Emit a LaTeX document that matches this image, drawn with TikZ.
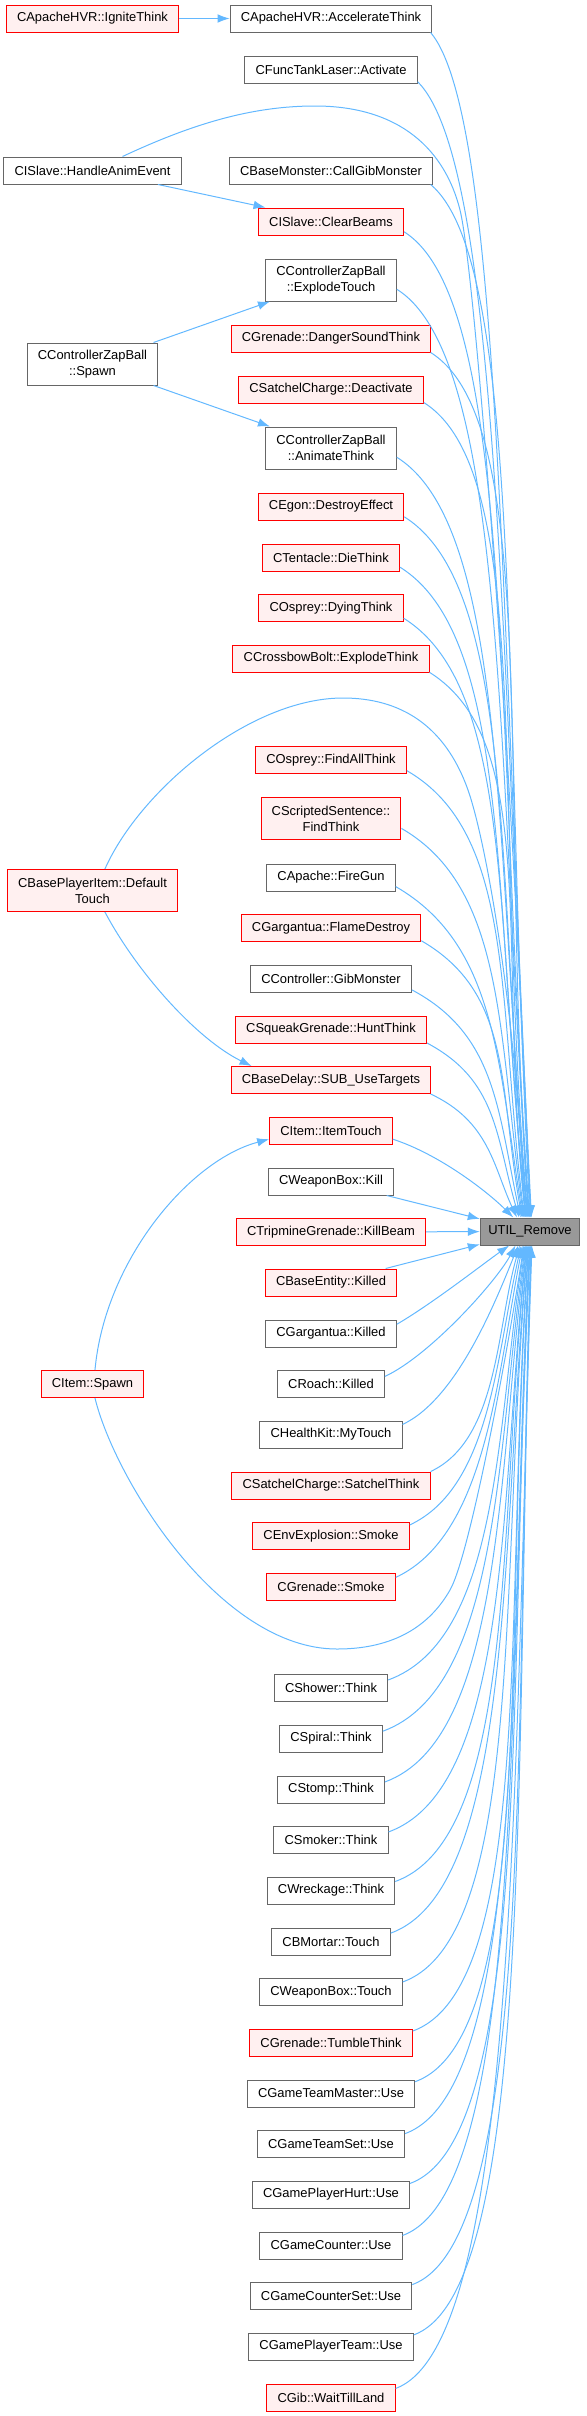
\documentclass[tikz,border=0pt]{standalone}
\usepackage{fontspec}
\setmainfont{Liberation Sans}
\usepackage{xcolor}
\usetikzlibrary{arrows.meta}

\definecolor{edgeblue}{HTML}{63B8FF}
\definecolor{boxgray}{HTML}{666666}
\definecolor{truncfill}{HTML}{FFF0F0}
\definecolor{rootfill}{HTML}{999999}

\begin{document}
\begin{tikzpicture}[x=0.75pt, y=0.75pt,
    fn/.style={rectangle, draw=boxgray, fill=white, line width=0.75pt, font=\fontsize{9.7}{12}\selectfont, inner xsep=8pt, inner ysep=2pt, minimum height=20.25pt, align=center},
    trunc/.style={fn, draw=red, fill=truncfill},
    root/.style={fn, fill=rootfill, inner xsep=6pt},
    tall/.style={minimum height=31.5pt},
    edge/.style={draw=edgeblue, line width=0.75pt, ->, >={Latex[length=9pt,width=6.5pt]}}]

\useasboundingbox (0,0) rectangle (586,-2416);

\node (ignite) [trunc] at (92.5,-18.5) {CApacheHVR::IgniteThink};
\node (accel) [fn] at (331,-18.5) {CApacheHVR::AccelerateThink};
\node (activate) [fn] at (331,-69.5) {CFuncTankLaser::Activate};
\node (handleanim) [fn] at (92.5,-170.5) {CISlave::HandleAnimEvent};
\node (callgib) [fn] at (331,-170.5) {CBaseMonster::CallGibMonster};
\node (clearbeams) [trunc] at (331,-221.5) {CISlave::ClearBeams};
\node (explodetouch) [fn, tall] at (331,-280) {CControllerZapBall\\::ExplodeTouch};
\node (zapspawn) [fn, tall] at (92.5,-364) {CControllerZapBall\\::Spawn};
\node (dangersound) [trunc] at (331,-338.5) {CGrenade::DangerSoundThink};
\node (deactivate) [trunc] at (331,-389.5) {CSatchelCharge::Deactivate};
\node (animatethink) [fn, tall] at (331,-448) {CControllerZapBall\\::AnimateThink};
\node (destroyeffect) [trunc] at (331,-506.5) {CEgon::DestroyEffect};
\node (diethink) [trunc] at (331,-557.5) {CTentacle::DieThink};
\node (dyingthink) [trunc] at (331,-608) {COsprey::DyingThink};
\node (explodethink) [trunc] at (331,-658.5) {CCrossbowBolt::ExplodeThink};
\node (findallthink) [trunc] at (331,-760) {COsprey::FindAllThink};
\node (scripted) [trunc, tall] at (331,-818.5) {CScriptedSentence::\\FindThink};
\node (defaulttouch) [trunc, tall] at (92.5,-890.5) {CBasePlayerItem::Default\\Touch};
\node (firegun) [fn] at (331,-877.5) {CApache::FireGun};
\node (flamedestroy) [trunc] at (331,-928) {CGargantua::FlameDestroy};
\node (gibmonster) [fn] at (331,-978.5) {CController::GibMonster};
\node (huntthink) [trunc] at (331,-1029.5) {CSqueakGrenade::HuntThink};
\node (subuse) [trunc] at (331,-1080) {CBaseDelay::SUB\_UseTargets};
\node (itemtouch) [trunc] at (331,-1130.5) {CItem::ItemTouch};
\node (wbkill) [fn] at (331,-1181.5) {CWeaponBox::Kill};
\node (killbeam) [trunc] at (331,-1232) {CTripmineGrenade::KillBeam};
\node (util) [root] at (530,-1231.5) {UTIL\_Remove};
\node (bekilled) [trunc] at (331,-1282.5) {CBaseEntity::Killed};
\node (gargkilled) [fn] at (331,-1333.5) {CGargantua::Killed};
\node (roachkilled) [fn] at (331,-1384) {CRoach::Killed};
\node (itemspawn) [trunc] at (92.5,-1384) {CItem::Spawn};
\node (mytouch) [fn] at (331,-1434.5) {CHealthKit::MyTouch};
\node (satchelthink) [trunc] at (331,-1485.5) {CSatchelCharge::SatchelThink};
\node (envsmoke) [trunc] at (331,-1536) {CEnvExplosion::Smoke};
\node (grenadesmoke) [trunc] at (331,-1586.5) {CGrenade::Smoke};
\node (shower) [fn] at (331,-1688) {CShower::Think};
\node (spiral) [fn] at (331,-1738.5) {CSpiral::Think};
\node (stomp) [fn] at (331,-1789.5) {CStomp::Think};
\node (smoker) [fn] at (331,-1840) {CSmoker::Think};
\node (wreckage) [fn] at (331,-1890.5) {CWreckage::Think};
\node (bmortar) [fn] at (331,-1941.5) {CBMortar::Touch};
\node (wbtouch) [fn] at (331,-1992) {CWeaponBox::Touch};
\node (tumble) [trunc] at (331,-2042.5) {CGrenade::TumbleThink};
\node (teammaster) [fn] at (331,-2093.5) {CGameTeamMaster::Use};
\node (teamset) [fn] at (331,-2144) {CGameTeamSet::Use};
\node (playerhurt) [fn] at (331,-2194.5) {CGamePlayerHurt::Use};
\node (counter) [fn] at (331,-2245.5) {CGameCounter::Use};
\node (counterset) [fn] at (331,-2296) {CGameCounterSet::Use};
\node (playerteam) [fn] at (331,-2346.5) {CGamePlayerTeam::Use};
\node (waittill) [trunc] at (331,-2397.5) {CGib::WaitTillLand};

\draw [edge] (ignite) -- (accel);
\draw [edge] (handleanim) -- (clearbeams);
\draw [edge] (zapspawn) -- (explodetouch);
\draw [edge] (zapspawn) -- (animatethink);
\draw [edge] (defaulttouch.-60) .. controls +(-62:70) and +(154:60) .. (subuse.170);
\draw [edge] (itemspawn.80) .. controls (105,-1260) and (190,-1160) .. (itemtouch.188);

\draw [edge] (handleanim.25) .. controls (190,-125) and (250,-106) .. (315,-106) .. controls (400,-106) and (445,-150) .. (460,-210) .. controls (475,-270) and (512,-750) .. (util.88);
\draw [edge] (defaulttouch.60) .. controls (140,-790) and (250,-698) .. (343,-698) .. controls (400,-698) and (445,-725) .. (468,-790) .. controls (485,-838) and (515,-1000) .. (util.110);
\draw [edge] (itemspawn.-80) .. controls (115,-1480) and (220,-1649) .. (337,-1649) .. controls (395,-1649) and (430,-1625) .. (450,-1590) .. controls (470,-1555) and (508,-1350) .. (util.-114);

\draw [edge] (accel.-8) .. controls +(-50:110) and +(93:590) .. (util.84);
\draw [edge] (activate.-8) .. controls +(-45:115) and +(93:565) .. (util.86);
\draw [edge] (callgib.-8) .. controls +(-40:120) and +(93:515) .. (util.90);
\draw [edge] (clearbeams.-8) .. controls +(-32:130) and +(94:490) .. (util.92);
\draw [edge] (explodetouch.-8) .. controls +(-32:130) and +(94:455) .. (util.94);
\draw [edge] (dangersound.-8) .. controls +(-32:130) and +(94:430) .. (util.96);
\draw [edge] (deactivate.-8) .. controls +(-32:130) and +(95:405) .. (util.98);
\draw [edge] (animatethink.-8) .. controls +(-32:130) and +(95:370) .. (util.100);
\draw [edge] (destroyeffect.-8) .. controls +(-32:130) and +(95:345) .. (util.102);
\draw [edge] (diethink.-8) .. controls +(-32:130) and +(96:320) .. (util.104);
\draw [edge] (dyingthink.-8) .. controls +(-32:130) and +(96:295) .. (util.106);
\draw [edge] (explodethink.-8) .. controls +(-32:130) and +(96:270) .. (util.108);
\draw [edge] (findallthink.-8) .. controls +(-30:125) and +(97:220) .. (util.112);
\draw [edge] (scripted.-8) .. controls +(-30:120) and +(98:185) .. (util.114);
\draw [edge] (firegun.-8) .. controls +(-30:115) and +(99:160) .. (util.117);
\draw [edge] (flamedestroy.-8) .. controls +(-30:105) and +(100:135) .. (util.120);
\draw [edge] (gibmonster.-8) .. controls +(-28:95) and +(102:110) .. (util.124);
\draw [edge] (huntthink.-8) .. controls +(-28:80) and +(106:85) .. (util.128);
\draw [edge] (subuse.-8) .. controls +(-25:65) and +(115:55) .. (util.133);
\draw [edge] (itemtouch.-8) .. controls +(-18:50) and +(135:35) .. (util.140);
\draw [edge] (wbkill) -- (util);
\draw [edge] (killbeam) -- (util);
\draw [edge] (bekilled) -- (util);

\draw [edge] (gargkilled.8) .. controls +(30:40) and +(-145:30) .. (util.-146);
\draw [edge] (roachkilled.8) .. controls +(25:50) and +(-118:40) .. (util.-136);
\draw [edge] (mytouch.8) .. controls +(25:60) and +(-112:60) .. (util.-130);
\draw [edge] (satchelthink.8) .. controls +(25:75) and +(-106:85) .. (util.-126);
\draw [edge] (envsmoke.8) .. controls +(25:90) and +(-103:110) .. (util.-122);
\draw [edge] (grenadesmoke.8) .. controls +(25:100) and +(-101:135) .. (util.-118);
\draw [edge] (shower.8) .. controls +(20:120) and +(-99:180) .. (util.-111);
\draw [edge] (spiral.8) .. controls +(20:125) and +(-98:205) .. (util.-108);
\draw [edge] (stomp.8) .. controls +(20:125) and +(-97:230) .. (util.-106);
\draw [edge] (smoker.8) .. controls +(20:130) and +(-96:255) .. (util.-104);
\draw [edge] (wreckage.8) .. controls +(20:130) and +(-96:280) .. (util.-102);
\draw [edge] (bmortar.8) .. controls +(20:130) and +(-95:305) .. (util.-100);
\draw [edge] (wbtouch.8) .. controls +(20:130) and +(-95:330) .. (util.-98);
\draw [edge] (tumble.8) .. controls +(20:130) and +(-94:355) .. (util.-96);
\draw [edge] (teammaster.8) .. controls +(20:130) and +(-94:380) .. (util.-94);
\draw [edge] (teamset.8) .. controls +(20:130) and +(-93:405) .. (util.-92);
\draw [edge] (playerhurt.8) .. controls +(20:130) and +(-93:430) .. (util.-90);
\draw [edge] (counter.8) .. controls +(20:130) and +(-93:455) .. (util.-88);
\draw [edge] (counterset.8) .. controls +(20:130) and +(-92:480) .. (util.-86);
\draw [edge] (playerteam.8) .. controls +(20:130) and +(-92:505) .. (util.-84);
\draw [edge] (waittill.8) .. controls +(20:130) and +(-92:530) .. (util.-82);

\end{tikzpicture}
\end{document}
